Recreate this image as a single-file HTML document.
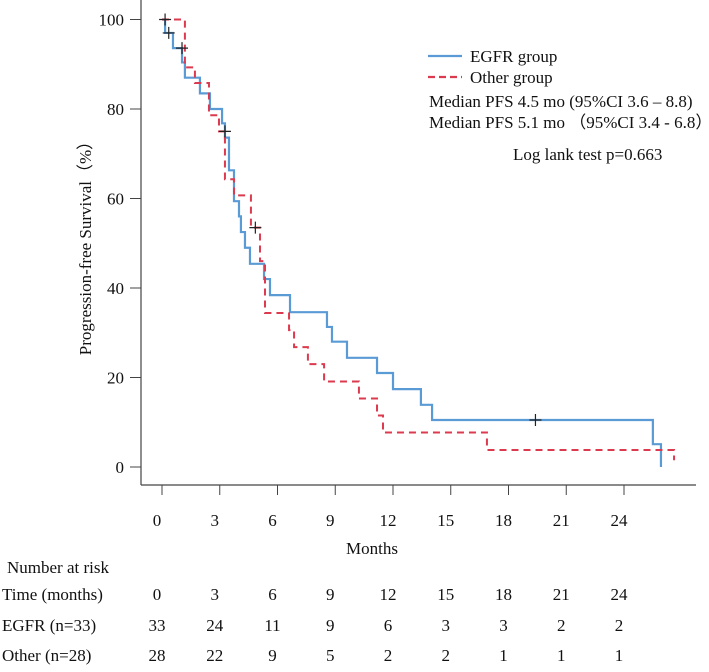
<!DOCTYPE html>
<html><head><meta charset="utf-8"><style>
body{margin:0;background:#fff;}
svg text{font-family:"Liberation Serif",serif;fill:#111;}
</style></head><body>
<svg width="709" height="667" viewBox="0 0 709 667">
<g id="axes"></g>
<g id="series"></g>
<g>
<line x1="428" y1="56" x2="462" y2="56" stroke="#5b9bd5" stroke-width="2.2"/>
<text x="470" y="62" font-size="17">EGFR group</text>
<line x1="428" y1="77" x2="462" y2="77" stroke="#dc3a4e" stroke-width="2.2" stroke-dasharray="7,4"/>
<text x="470" y="83" font-size="17">Other group</text>
<text x="429" y="107" font-size="17">Median PFS 4.5 mo (95%CI 3.6 – 8.8)</text>
<text x="429" y="128" font-size="17">Median PFS 5.1 mo （95%CI 3.4 - 6.8）</text>
<text x="513" y="160" font-size="17">Log lank test p=0.663</text>
</g>
<text x="0" y="0" font-size="17" transform="translate(91,244) rotate(-90)" text-anchor="middle">Progression-free Survival（%）</text>
<text x="372" y="554" font-size="17" text-anchor="middle">Months</text>
<g id="risk">
<text x="7" y="573" font-size="17">Number at risk</text>
<text x="2" y="600" font-size="17">Time (months)</text>
<text x="2" y="631" font-size="17">EGFR (n=33)</text>
<text x="2" y="661" font-size="17">Other (n=28)</text>
</g>
</svg>
<script>
const xTicks=[0,3,6,9,12,15,18,21,24];
const yTicks=[0,20,40,60,80,100];
const egfrTimes=[0,0.16,0.57,1.04,1.19,1.97,2.49,3.12,3.27,3.48,3.74,4.0,4.1,4.31,4.57,5.3,5.61,6.65,8.57,8.83,9.61,11.17,12.0,13.45,14.03,25.5,25.92];
const egfrSurv=[100,97,93.6,90.4,87,83.5,80,76.8,73.6,66.3,59.4,56,52.5,49,45.4,42,38.4,34.6,31.3,28,24.4,21,17.4,13.9,10.5,5.1,0];
const otherTimes=[0,1.19,1.71,2.44,2.96,3.27,3.74,4.62,5.09,5.35,6.6,6.86,7.58,8.42,10.23,11.17,11.48,16.88,26.6];
const otherSurv=[100,89.3,85.8,78.6,75,64.3,60.7,53.5,46,34.4,30.6,26.8,23,19.1,15.3,11.5,7.7,3.8,1.5];
const egfrCensorT=[0.35,1.04,3.27,19.4];
const egfrCensorS=[97,93.6,75,10.5];
const otherCensorT=[0.16,4.85];
const otherCensorS=[100,53.5];
const riskEgfr=[33,24,11,9,6,3,3,2,2];
const riskOther=[28,22,9,5,2,2,1,1,1];
const NS='http://www.w3.org/2000/svg';
const X=t=>162+t*19.25, Y=v=>467-v*4.475;
function mk(tag,attrs,parent){const e=document.createElementNS(NS,tag);for(const k in attrs)e.setAttribute(k,attrs[k]);parent.appendChild(e);return e;}
const ax=document.getElementById('axes'), se=document.getElementById('series'), rk=document.getElementById('risk');
let l=mk('line',{x1:141,y1:0,x2:141,y2:485,stroke:'#444','stroke-width':1.2},ax);


l=mk('line',{x1:141,y1:485,x2:696,y2:485,stroke:'#444','stroke-width':1.2},ax);


yTicks.forEach(v=>{
 const t=mk('line',{x1:130,y1:Y(v),x2:141,y2:Y(v),stroke:'#444'},ax);
 
 
 const tx=mk('text',{x:124,y:Y(v)+6,'font-size':17,'text-anchor':'end'},ax);tx.textContent=v;
 
 
});
xTicks.forEach((v,i)=>{
 const t=mk('line',{x1:X(v),y1:485,x2:X(v),y2:495,stroke:'#444'},ax);
 
 
 const tx=mk('text',{x:X(v)-5,y:526,'font-size':17,'text-anchor':'middle'},ax);tx.textContent=v;
 
 
 [[v,600],[riskEgfr[i],631],[riskOther[i],661]].forEach(([val,y])=>{
  const r=mk('text',{x:X(v)-5,y:y,'font-size':17,'text-anchor':'middle'},rk);r.textContent=val;
  
  
 });
});
function stepPath(ts,ss){let d='M'+X(ts[0])+','+Y(ss[0]);for(let i=1;i<ts.length;i++){d+=' H'+X(ts[i])+' V'+Y(ss[i]);}return d;}
const pe=mk('path',{d:stepPath(egfrTimes,egfrSurv),fill:'none',stroke:'#5b9bd5','stroke-width':2.2},se);


const po=mk('path',{d:stepPath(otherTimes,otherSurv),fill:'none',stroke:'#dc3a4e','stroke-width':2,'stroke-dasharray':'7,5'},se);


function cross(t,s){const x=X(t),y=Y(s);const p=mk('path',{d:`M${x-6},${y}H${x+6}M${x},${y-6}V${y+6}`,stroke:'#222','stroke-width':1.2},se);
 
 }
egfrCensorT.forEach((t,i)=>cross(t,egfrCensorS[i]));
otherCensorT.forEach((t,i)=>cross(t,otherCensorS[i]));
</script>
</body></html>
